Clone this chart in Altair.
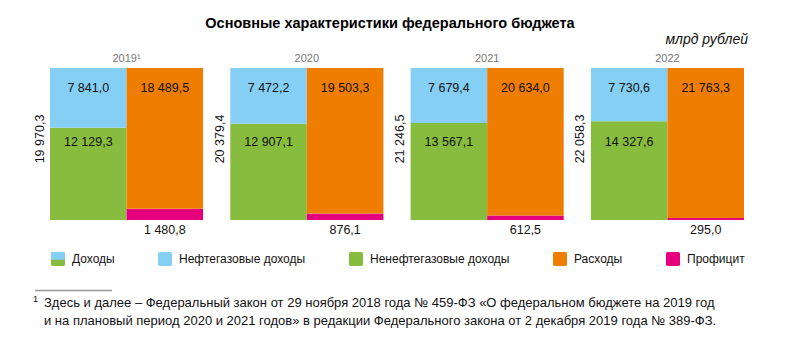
import altair as alt
import pandas as pd

# ---- data ----
years = ["2019", "2020", "2021", "2022"]
year_labels = ["2019\u00b9", "2020", "2021", "2022"]
oil_gas = [7841.0, 7472.2, 7679.4, 7730.6]
non_oil_gas = [12129.3, 12907.1, 13567.1, 14327.6]
revenues = [19970.3, 20379.4, 21246.5, 22058.3]
expenses = [18489.5, 19503.3, 20634.0, 21763.3]
surplus = [1480.8, 876.1, 612.5, 295.0]

title_text = "Основные характеристики федерального бюджета"
unit_text = "млрд рублей"
legend_names = ["Доходы", "Нефтегазовые доходы", "Ненефтегазовые доходы", "Расходы", "Профицит"]
footnote_mark = "1"
footnote_lines = [
    "Здесь и далее \u2013 Федеральный закон от 29 ноября 2018 года \u2116 459-ФЗ \u00abО федеральном бюджете на 2019 год",
    "и на плановый период 2020 и 2021 годов\u00bb в редакции Федерального закона от 2 декабря 2019 года \u2116 389-ФЗ.",
]

BLUE = "#84cff3"
GREEN = "#87bc3f"
ORANGE = "#ef7d00"
PINK = "#e5007e"
FONT = "Liberation Sans, Arial, sans-serif"


def fmt(v):
    return f"{v:,.1f}".replace(",", " ").replace(".", ",")


# ---- tables ----
rows = []
for i, y in enumerate(years):
    tot = revenues[i]
    rows.append(dict(year=y, col="Доходы", series="Ненефтегазовые доходы",
                     y0=0.0, y1=non_oil_gas[i] / tot))
    rows.append(dict(year=y, col="Доходы", series="Нефтегазовые доходы",
                     y0=non_oil_gas[i] / tot, y1=(non_oil_gas[i] + oil_gas[i]) / tot))
    tot_r = expenses[i] + surplus[i]
    rows.append(dict(year=y, col="Расходы", series="Профицит",
                     y0=0.0, y1=surplus[i] / tot_r))
    rows.append(dict(year=y, col="Расходы", series="Расходы",
                     y0=surplus[i] / tot_r, y1=1.0))
bars_df = pd.DataFrame(rows)

top_df = pd.DataFrame(
    [dict(year=y, col="Доходы", t=fmt(oil_gas[i])) for i, y in enumerate(years)]
    + [dict(year=y, col="Расходы", t=fmt(expenses[i])) for i, y in enumerate(years)]
)
mid_df = pd.DataFrame([dict(year=y, col="Доходы", t=fmt(non_oil_gas[i])) for i, y in enumerate(years)])
low_df = pd.DataFrame([dict(year=y, col="Расходы", t=fmt(surplus[i])) for i, y in enumerate(years)])
year_df = pd.DataFrame(dict(year=years, t=year_labels))
tot_df = pd.DataFrame(dict(year=years, t=[fmt(v) for v in revenues]))
# zero-height helper row that only carries the blue half of the "Доходы" legend key
key_df = pd.DataFrame([dict(year=years[0], col="Доходы", key=legend_names[0], y0=0.0, y1=0.0)])

x_enc = alt.X("year:N", scale=alt.Scale(domain=years, paddingInner=0.151, paddingOuter=0), axis=None)
xo_enc = alt.XOffset("col:N", scale=alt.Scale(domain=["Доходы", "Расходы"], paddingInner=0, paddingOuter=0))
y_scale = alt.Scale(domain=[0, 1], nice=False, zero=True)

rounded = "M-0.75,-1L0.75,-1Q1,-1,1,-0.75L1,0.75Q1,1,0.75,1L-0.75,1Q-1,1,-1,0.75L-1,-0.75Q-1,-1,-0.75,-1Z"
top_half = "M-0.75,-1L0.75,-1Q1,-1,1,-0.75L1,0.1L-1,0.1L-1,-0.75Q-1,-1,-0.75,-1Z"

leg_common = dict(
    title=None, orient="none", legendX=1, legendY=184, direction="horizontal", columns=5,
    symbolSize=196, symbolStrokeWidth=0, symbolOpacity=1,
    labelFont=FONT, labelFontSize=12, labelColor="#111", labelOffset=7, labelLimit=400,
    columnPadding=43, padding=0,
)

bars = alt.Chart(bars_df).mark_bar().encode(
    x=x_enc, xOffset=xo_enc,
    y=alt.Y("y0:Q", scale=y_scale, axis=None), y2="y1:Q",
    color=alt.Color("series:N", scale=alt.Scale(domain=legend_names,
                                                range=[GREEN, BLUE, GREEN, ORANGE, PINK]),
                    legend=alt.Legend(symbolType=rounded, **leg_common)),
)

key_layer = alt.Chart(key_df).mark_bar().encode(
    x=x_enc, xOffset=xo_enc,
    y=alt.Y("y0:Q", scale=y_scale, axis=None), y2="y1:Q",
    color=alt.Color("key:N", scale=alt.Scale(domain=[legend_names[0]], range=[BLUE]),
                    legend=alt.Legend(symbolType=top_half, zindex=1, labelOpacity=0, **leg_common)),
)

num_style = dict(font=FONT, fontSize=12.5, color="#111", baseline="middle")
top_txt = alt.Chart(top_df).mark_text(dy=20, **num_style).encode(
    x=x_enc, xOffset=xo_enc, y=alt.Y(datum=1, scale=y_scale), text="t:N")
mid_txt = alt.Chart(mid_df).mark_text(dy=-2, **num_style).encode(
    x=x_enc, xOffset=xo_enc, y=alt.Y(datum=0.5, scale=y_scale), text="t:N")
low_txt = alt.Chart(low_df).mark_text(dy=10, **num_style).encode(
    x=x_enc, xOffset=xo_enc, y=alt.Y(datum=0, scale=y_scale), text="t:N")
year_txt = alt.Chart(year_df).mark_text(dy=-9, font=FONT, fontSize=11, color="#777", baseline="middle").encode(
    x=x_enc, y=alt.Y(datum=1, scale=y_scale), text="t:N")
tot_txt = alt.Chart(tot_df).mark_text(angle=270, dx=5, dy=-87, **num_style).encode(
    x=x_enc, y=alt.Y(datum=0.5, scale=y_scale), text="t:N")

unit_txt = alt.Chart(pd.DataFrame(dict(t=[unit_text]))).mark_text(
    font=FONT, fontSize=14, fontStyle="italic", color="#111", align="right", baseline="middle"
).encode(x=alt.value(698), y=alt.value(-28), text="t:N")

rule = alt.Chart(pd.DataFrame(dict(a=[0]))).mark_rule(color="#999", strokeWidth=1.5).encode(
    x=alt.value(-15), x2=alt.value(62), y=alt.value(222.5))

fn_mark = alt.Chart(pd.DataFrame(dict(t=[footnote_mark]))).mark_text(
    font=FONT, fontSize=9, color="#111", align="left", baseline="middle"
).encode(x=alt.value(-17), y=alt.value(231), text="t:N")

fn_style = dict(font=FONT, fontSize=13, color="#111", align="left", baseline="middle")
fn_line1 = alt.Chart(pd.DataFrame(dict(t=[footnote_lines[0]]))).mark_text(**fn_style).encode(
    x=alt.value(-6), y=alt.value(235), text="t:N")
fn_line2 = alt.Chart(pd.DataFrame(dict(t=[footnote_lines[1]]))).mark_text(**fn_style).encode(
    x=alt.value(-6), y=alt.value(252.5), text="t:N")

chart = alt.layer(bars, key_layer, top_txt, mid_txt, low_txt, year_txt, tot_txt, unit_txt, rule,
                  fn_mark, fn_line1, fn_line2).resolve_scale(
    color="independent"
).properties(
    width=694, height=152,
    title=alt.Title(title_text, font=FONT, fontSize=14.5, fontWeight="bold", color="#000",
                    anchor="middle", offset=2, dx=-7),
    autosize=alt.AutoSizeParams(type="none"),
    padding={"left": 50, "top": 68, "right": 66, "bottom": 131},
).configure_view(stroke=None)

chart.save("out.html", embed_options={"renderer": "svg", "actions": False})
